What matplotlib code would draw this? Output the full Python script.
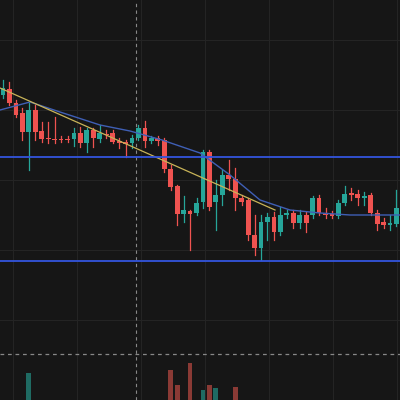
import matplotlib
matplotlib.use("Agg")
import matplotlib.pyplot as plt
import numpy as np

# candles: open, close, high, low (chart units, larger = lower on screen)
opens  = [95, 89, 103, 113, 132, 110, 131, 138, 139, 139, 139, 139, 133, 143, 130, 139, 134, 133, 141, 142, 143, 138,
          128, 141, 138, 140, 169, 186, 214, 211, 213, 202, 152, 202, 195, 175, 179, 198, 200, 235, 248, 222, 217, 232,
          215, 213, 223, 215, 215, 198, 213, 214, 216, 203, 193, 194, 198, 195, 213, 222, 225, 224, 208]
closes = [88, 103, 115, 132, 110, 132, 139, 139, 139, 139, 140, 133, 143, 130, 138, 133, 134, 142, 143, 144, 138, 128,
          141, 138, 141, 169, 187, 214, 210, 214, 203, 152, 207, 195, 175, 179, 198, 202, 235, 248, 222, 217, 232, 215,
          213, 223, 215, 223, 198, 213, 215, 216, 203, 194, 195, 198, 196, 213, 224, 225, 223, 208, 224]
highs  = [80, 82, 100, 108, 103, 105, 122, 122, 117, 136, 136, 128, 127, 128, 128, 125, 130, 130, 138, 140, 135, 125,
          121, 136, 136, 138, 165, 185, 196, 210, 198, 150, 150, 180, 170, 160, 168, 195, 198, 215, 215, 213, 212, 207,
          210, 210, 210, 212, 196, 195, 208, 211, 200, 186, 188, 190, 192, 193, 210, 218, 215, 190, 180]
lows   = [98, 105, 117, 140, 170, 140, 142, 143, 143, 142, 142, 146, 147, 152, 147, 142, 138, 143, 148, 157, 148, 140,
          147, 143, 145, 172, 190, 225, 222, 250, 215, 208, 210, 230, 205, 190, 210, 205, 240, 255, 260, 240, 240, 235,
          218, 228, 228, 232, 218, 215, 218, 218, 218, 205, 200, 205, 205, 215, 230, 228, 230, 226, 226]

# volume bars: candle index and top
vol_idx = [4, 26, 27, 29, 31, 32, 33, 36]
vol_top = [373, 370, 385, 363, 390, 385, 388, 387]

ma_x = [0, 30, 60, 100, 130, 162, 200, 230, 260, 290, 320, 350, 400]
ma_y = [110, 102, 112, 125, 131, 140, 153, 175, 200, 210, 213, 215, 215]
trend_x = [0, 275]
trend_y = [88, 210]
levels = [157, 261]

up, down = "#26a69a", "#ef5350"
bg = "#161616"

fig = plt.figure(figsize=(4, 4), dpi=100, facecolor=bg)
ax = fig.add_axes([0, 0, 1, 1])
ax.set_facecolor(bg)
ax.set_xlim(0, 400)
ax.set_ylim(400, 0)

for gx in np.arange(13, 400, 64):
    ax.axvline(gx, color="#242424", lw=0.8, zorder=0)
for gy in [40, 110, 180, 250, 320]:
    ax.axhline(gy, color="#242424", lw=0.8, zorder=0)

ax.axvline(136, color="#888888", lw=0.8, ls=(0, (3, 3)), zorder=1)
ax.axhline(354, color="#888888", lw=0.9, ls=(0, (3, 3)), zorder=1)

xs = 3 + np.arange(len(opens)) * 6.45
for x, o, c, h, l in zip(xs, opens, closes, highs, lows):
    col = up if c < o else down
    ax.plot([x, x], [h, l], color=col, lw=0.9, zorder=3)
    top, bot = min(o, c), max(o, c)
    ax.bar(x, max(bot - top, 1.2), bottom=top, width=4.8, color=col, zorder=4)

for i, t in zip(vol_idx, vol_top):
    col = "#1f6b63" if closes[i] < opens[i] else "#8a3a35"
    ax.bar(xs[i], 400 - t, bottom=t, width=4.8, color=col, zorder=2)

ax.plot(ma_x, ma_y, color="#3f5fb5", lw=1, zorder=5)
ax.plot(trend_x, trend_y, color="#c9b458", lw=0.9, zorder=5)
for lv in levels:
    ax.axhline(lv, color="#3355dd", lw=1.3, zorder=5)

ax.axis("off")
fig.savefig("out.png", facecolor=bg)
